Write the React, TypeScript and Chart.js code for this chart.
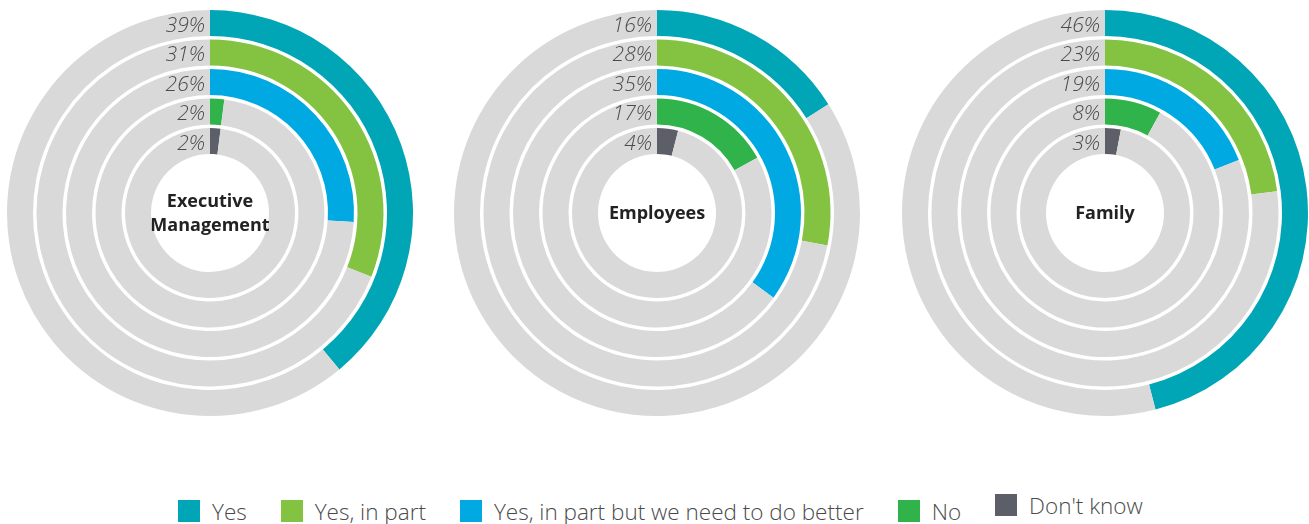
import React, { useEffect, useRef } from "react";
import { Chart, registerables } from "chart.js";

Chart.register(...registerables);

const categories = ["Yes", "Yes, in part", "Yes, in part but we need to do better", "No", "Don't know"];
const colors = ["#00A6B6", "#84C341", "#00A9E2", "#2FB34A", "#5C5F67"];
const trackColor = "#D9D9D9";

const executiveTitle = ["Executive", "Management"];
const executiveValues = [39, 31, 26, 2, 2];
const employeesTitle = ["Employees"];
const employeesValues = [16, 28, 35, 17, 4];
const familyTitle = ["Family"];
const familyValues = [46, 23, 19, 8, 3];

const RING_WEIGHT = 26;
const GAP_WEIGHT = 3.5;
const SIZE = 420;

function Ring({ values, title, left }: { values: number[]; title: string[]; left: number }) {
  const ref = useRef<HTMLCanvasElement | null>(null);
  useEffect(() => {
    if (!ref.current) return;
    const datasets: any[] = [];
    values.forEach((v, i) => {
      if (i > 0) {
        datasets.push({
          label: "gap",
          data: [100],
          backgroundColor: ["rgba(0,0,0,0)"],
          borderWidth: 0,
          weight: GAP_WEIGHT,
        });
      }
      datasets.push({
        label: categories[i],
        data: [v, 100 - v],
        backgroundColor: [colors[i], trackColor],
        borderWidth: 0,
        weight: RING_WEIGHT,
      });
    });
    const labelPlugin = {
      id: "ringLabels",
      afterDatasetsDraw(chart: any) {
        const ctx = chart.ctx;
        ctx.save();
        let cx = 0;
        let cy = 0;
        values.forEach((v, i) => {
          const meta = chart.getDatasetMeta(i * 2);
          const arc = meta.data[0];
          const p = arc.getProps(["x", "y", "innerRadius", "outerRadius"], true);
          cx = p.x;
          cy = p.y;
          const mid = (p.innerRadius + p.outerRadius) / 2;
          ctx.font = "italic 300 21px 'Open Sans'";
          ctx.fillStyle = "#4a4a4a";
          ctx.textAlign = "right";
          ctx.textBaseline = "middle";
          ctx.fillText(v + "%", cx - 5, cy - mid + 3);
        });
        ctx.font = "bold 18px 'Open Sans'";
        ctx.fillStyle = "#222222";
        ctx.textAlign = "center";
        ctx.textBaseline = "middle";
        const lh = 24;
        const start = cy - ((title.length - 1) * lh) / 2 + 1;
        title.forEach((t, k) => ctx.fillText(t, cx, start + k * lh));
        ctx.restore();
      },
    };
    const chart = new Chart(ref.current, {
      type: "doughnut",
      data: { labels: ["value", "rest"], datasets },
      options: {
        responsive: false,
        animation: false,
        events: [],
        cutout: (59 / 203) * 100 + "%",
        layout: { padding: 7 },
        plugins: { legend: { display: false }, tooltip: { enabled: false } },
      } as any,
      plugins: [labelPlugin],
    });
    return () => chart.destroy();
  }, [values, title]);
  return (
    <canvas
      ref={ref}
      width={SIZE}
      height={SIZE}
      style={{ position: "absolute", left, top: 3, width: SIZE, height: SIZE }}
    />
  );
}

export default function App() {
  const legendShift = [0, 0, 0, 0, -6];
  return (
    <div
      style={{
        position: "absolute",
        left: 0,
        top: 0,
        width: 1309,
        height: 524,
        background: "#ffffff",
        overflow: "hidden",
      }}
    >
      <Ring values={executiveValues} title={executiveTitle} left={0} />
      <Ring values={employeesValues} title={employeesTitle} left={447} />
      <Ring values={familyValues} title={familyTitle} left={895} />
      <div
        style={{
          position: "absolute",
          left: 178,
          top: 500,
          height: 22,
          display: "flex",
          alignItems: "center",
          gap: 34,
          fontFamily: "'Open Sans', sans-serif",
          fontWeight: 300,
          fontSize: 22.5,
          color: "#4a4a4a",
          whiteSpace: "nowrap",
        }}
      >
        {categories.map((c, i) => (
          <div
            key={c}
            style={{
              display: "flex",
              alignItems: "center",
              gap: 12,
              transform: `translateY(${legendShift[i]}px)`,
            }}
          >
            <span style={{ display: "inline-block", width: 22, height: 22, background: colors[i] }} />
            <span style={{ lineHeight: "22px", position: "relative", top: 1 }}>{c}</span>
          </div>
        ))}
      </div>
    </div>
  );
}
